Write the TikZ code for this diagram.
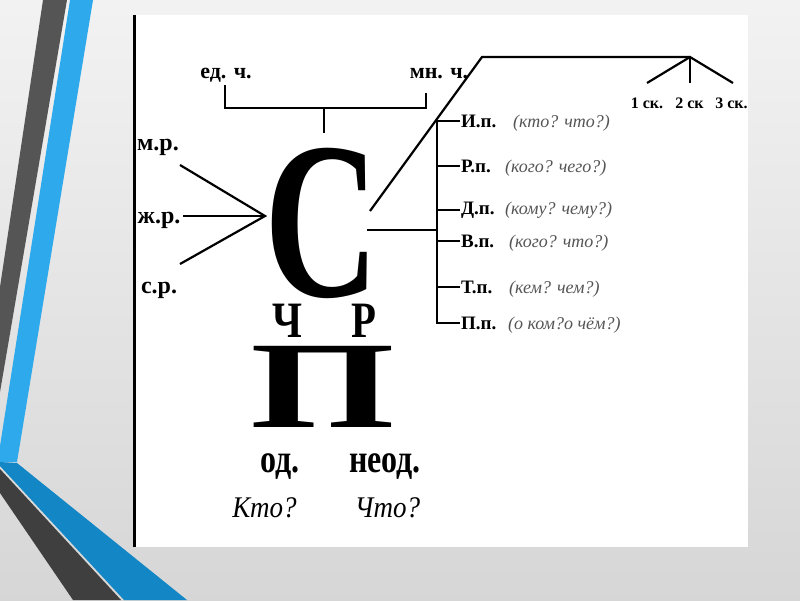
\documentclass[tikz,border=0pt]{standalone}
\usepackage{fontspec}
\setmainfont{Liberation Serif}
\definecolor{stripedark}{HTML}{555555}
\definecolor{stripedeep}{HTML}{3F3F3F}
\definecolor{stripeblue}{HTML}{2DA9EC}
\definecolor{stripesea}{HTML}{1387C6}
\definecolor{askgray}{HTML}{555555}
\tikzset{
  genlbl/.style={font=\bfseries\fontsize{24}{24}\selectfont, inner sep=0pt, anchor=base},
  numlbl/.style={font=\bfseries\fontsize{22}{22}\selectfont, inner sep=0pt, anchor=base},
  caselbl/.style={font=\bfseries\fontsize{19}{19}\selectfont, inner sep=0pt, anchor=base west},
  asklbl/.style={font=\itshape\fontsize{18}{18}\selectfont, text=askgray, inner sep=0pt, anchor=base west},
  decllbl/.style={font=\bfseries\fontsize{16}{16}\selectfont, inner sep=0pt, anchor=base},
  bigletter/.style={font=\bfseries\fontsize{224}{224}\selectfont, inner sep=0pt, anchor=base},
  bigpe/.style={font=\bfseries\fontsize{124}{124}\selectfont, inner sep=0pt, anchor=base},
  letlbl/.style={font=\bfseries\fontsize{51}{51}\selectfont, inner sep=0pt, anchor=base},
  animlbl/.style={font=\bfseries\fontsize{40}{40}\selectfont, inner sep=0pt, anchor=base},
  wholbl/.style={font=\itshape\fontsize{30}{30}\selectfont, inner sep=0pt, anchor=base}
}
\begin{document}
\begin{tikzpicture}[x=1pt, y=-1pt, line width=2.2pt]
\useasboundingbox (0,0) rectangle (800,600);
\shade[top color=gray!10, bottom color=gray!32] (0,0) rectangle (800,600);
\fill[stripedark] (43,0) -- (67,0) -- (0,392) -- (0,287) -- cycle;
\fill[stripeblue] (70,0) -- (93,0) -- (17,462) -- (0,462) -- (0,446) -- cycle;
\fill[stripesea] (0,462) -- (17,463) -- (187,600) -- (124,600) -- (0,466) -- cycle;
\fill[stripedeep] (0,469) -- (121,600) -- (73,600) -- (0,493) -- cycle;
\fill[white] (133,15) rectangle (748,547);
\draw[line width=3pt] (134,15) -- (134,547);

\node[bigletter] (es) at (322,296) {\scalebox{0.71}[1]{С}};

\node[genlbl] (mr) at (158,150) {м.р.};
\node[genlbl] (zhr) at (159,223) {ж.р.};
\node[genlbl] (sr) at (159,293) {с.р.};
\coordinate (mrend) at (180,165);
\coordinate (zhrend) at (183,216);
\coordinate (srend) at (180,264);
\coordinate (genjoin) at (265,216);
\draw (mrend) -- (genjoin) -- (srend);
\draw (zhrend) -- (genjoin);

\node[numlbl] (ed) at (226,78) {ед. ч.};
\node[numlbl] (mn) at (439,78) {мн. ч.};
\coordinate (edfoot) at (225,85);
\coordinate (edcorner) at (225,108);
\coordinate (mncorner) at (426,108);
\coordinate (mnfoot) at (426,93);
\coordinate (nummid) at (324,108);
\coordinate (numtick) at (324,133);
\draw (edfoot) -- (edcorner) -- (mncorner) -- (mnfoot);
\draw (nummid) -- (numtick);

\coordinate (esup) at (370,211);
\coordinate (declbend) at (482,57);
\coordinate (declfork) at (690,57);
\coordinate (decl1) at (647,83);
\coordinate (decl2) at (690,83);
\coordinate (decl3) at (733,83);
\draw (esup) -- (declbend) -- (declfork);
\draw (decl1) -- (declfork) -- (decl3);
\draw (declfork) -- (decl2);
\node[decllbl] (sk1) at (647,108) {1 ск.};
\node[decllbl] (sk2) at (689.5,108) {2 ск};
\node[decllbl] (sk3) at (731.5,108) {3 ск.};

\node[caselbl] (ip) at (460,127) {И.п.};
\node[caselbl] (rp) at (460,172) {Р.п.};
\node[caselbl] (dp) at (460,214) {Д.п.};
\node[caselbl] (vp) at (460,247) {В.п.};
\node[caselbl] (tp) at (460,293) {Т.п.};
\node[caselbl] (pp) at (460,329) {П.п.};
\node[asklbl] (ipq) at (512,127) {(кто? что?)};
\node[asklbl] (rpq) at (504,172) {(кого? чего?)};
\node[asklbl] (dpq) at (504,214) {(кому? чему?)};
\node[asklbl] (vpq) at (508,247) {(кого? что?)};
\node[asklbl] (tpq) at (508,293) {(кем? чем?)};
\node[asklbl] (ppq) at (507,329) {(о ком?о чём?)};
\coordinate (esmid) at (367,230);
\coordinate (trunk) at (437,230);
\draw (esmid) -- (trunk);
\draw (ip.west) -- (ip.west -| trunk) -- (pp.west -| trunk) -- (pp.west);
\draw (rp.west) -- (rp.west -| trunk);
\draw (dp.west) -- (dp.west -| trunk);
\draw (vp.west) -- (vp.west -| trunk);
\draw (tp.west) -- (tp.west -| trunk);

\node[letlbl] (ch) at (287.5,337) {\scalebox{0.8}[1]{Ч}};
\node[letlbl] (er) at (364,337) {\scalebox{0.8}[1]{Р}};
\node[bigpe] (pe) at (323,427) {\scalebox{1.5}[1]{П}};
\node[animlbl] (od) at (280,472) {\scalebox{0.8}[1]{од.}};
\node[animlbl] (neod) at (385,472) {\scalebox{0.8}[1]{неод.}};
\node[wholbl] (kto) at (264.5,517) {\scalebox{0.9}[1]{Кто?}};
\node[wholbl] (chto) at (387.5,517) {\scalebox{0.9}[1]{Что?}};
\end{tikzpicture}
\end{document}
